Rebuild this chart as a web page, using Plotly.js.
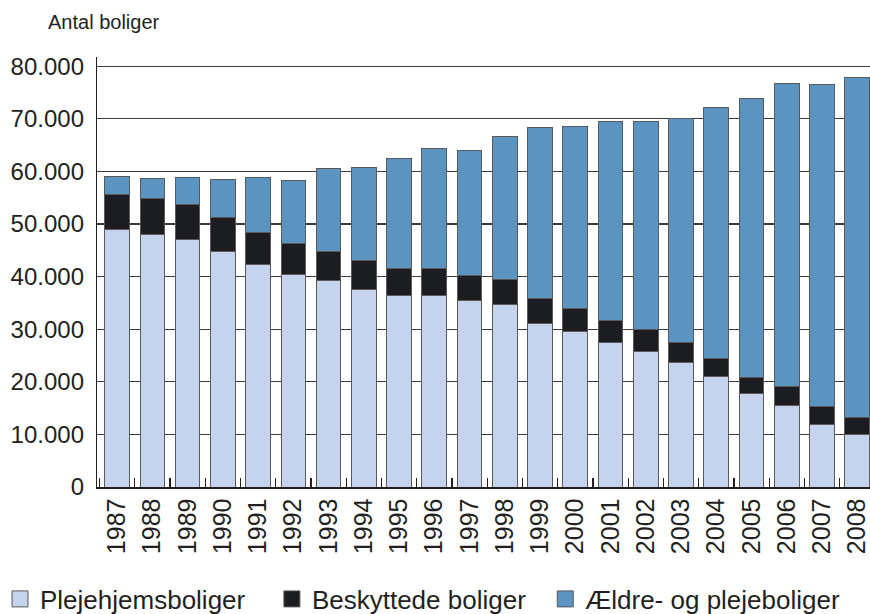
<!DOCTYPE html>
<html>
<head>
<meta charset="utf-8">
<script src="https://cdn.plot.ly/plotly-3.0.1.min.js"></script>
<style>html,body{margin:0;padding:0;background:#fff;}#chart{width:870px;height:614px;}</style>
</head>
<body>
<div id="chart"></div>
<script>
const years = ['1987','1988','1989','1990','1991','1992','1993','1994','1995','1996','1997','1998','1999','2000','2001','2002','2003','2004','2005','2006','2007','2008'];
const plejehjemsboliger = [49000,48000,47000,44800,42300,40400,39200,37600,36400,36400,35400,34700,31100,29600,27500,25700,23700,21000,17700,15500,11900,10000];
const beskyttedeBoliger = [6700,6900,6800,6500,6000,5900,5500,5400,5200,5200,4900,4800,4800,4400,4200,4300,3700,3500,3100,3700,3500,3200];
const aeldreOgPlejeboliger = [3300,3800,5000,7200,10600,12000,15800,17800,20900,22700,23600,27100,32400,34500,37800,39500,42700,47600,53000,57500,61200,64600];
const seriesNames = ['Plejehjemsboliger','Beskyttede boliger','Ældre- og plejeboliger'];
const seriesColors = ['#c5d3ec','#1c1d21','#5b93c1'];
const yTickVals = [0,10000,20000,30000,40000,50000,60000,70000,80000];
const yTickText = ['0','10.000','20.000','30.000','40.000','50.000','60.000','70.000','80.000'];

const font = 'Liberation Sans, Arial, sans-serif';
const outline = {color:'#5a5a5a', width:1};
const seriesValues = [plejehjemsboliger, beskyttedeBoliger, aeldreOgPlejeboliger];
// trailing non-breaking spaces only widen the legend entries to match the reference spacing
const legendPad = ['\u00a0\u00a0\u00a0', '\u00a0\u00a0', ''];
const traces = [];
seriesValues.forEach((vals, i) => {
  traces.push({type:'bar', name:seriesNames[i], x:years, y:vals, marker:{color:seriesColors[i], line:outline}, showlegend:false, legendgroup:'g'+i});
});
seriesValues.forEach((vals, i) => {
  traces.push({type:'scatter', mode:'markers', name:seriesNames[i] + legendPad[i], x:[null], y:[null], legendgroup:'g'+i,
    marker:{symbol:'square', size:20, color:seriesColors[i], line:{color:'#5a5a5a', width:1}}});
});
const layout = {
  width:870, height:614,
  margin:{l:0, r:0, t:57, b:127, pad:0, autoexpand:false},
  barmode:'stack', bargap:0.3,
  paper_bgcolor:'#fff', plot_bgcolor:'#fff',
  font:{family:font, color:'#231f20'},
  title:{text:'Antal boliger', x:48/870, xanchor:'left', xref:'container', y:1-22/614, yanchor:'middle', yref:'container', font:{size:20, family:font, color:'#231f20'}},
  xaxis:{type:'category', domain:[97/870, 1], range:[-0.57, 21.36], tickangle:-90, tickfont:{size:25}, ticks:'inside', tickson:'boundaries', ticklen:9, tickcolor:'#231f20', tickwidth:1.2,
         showline:true, linecolor:'#231f20', linewidth:1.5, showgrid:false, fixedrange:true, automargin:false},
  yaxis:{range:[0, 81750], tickvals:yTickVals, ticktext:yTickText, tickfont:{size:24}, ticks:'', showline:true, linecolor:'#231f20', linewidth:1.2,
         showgrid:true, gridcolor:'#3a3a3a', gridwidth:1.2, zeroline:false, ticklabelstandoff:7, automargin:false},
  legend:{orientation:'h', xref:'container', x:0, xanchor:'left', yref:'container', y:1-599/614, yanchor:'middle', font:{size:26, family:font}, traceorder:'normal', itemwidth:30, itemsizing:'trace'},
  showlegend:true
};
Plotly.newPlot('chart', traces, layout, {displayModeBar:false, staticPlot:true});
</script>
</body>
</html>
